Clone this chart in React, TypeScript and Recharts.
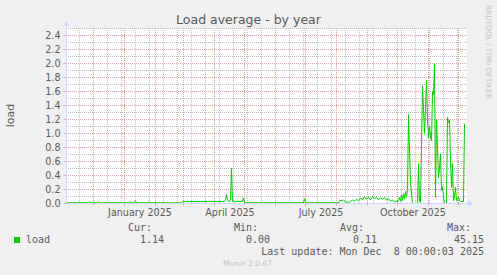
import React from "react";
import * as Recharts from "recharts";
import { LineChart, Line, XAxis, YAxis, CartesianGrid } from "recharts";

// day 0 = left edge of the plot, one sample per day (Munin "by year", 400 days)
const days = [
  0, 22, 23, 24, 31, 32, 33, 62, 63, 64, 68, 69, 70, 81, 82, 83, 92, 93, 94,
  100, 101, 102, 104, 105, 106, 115, 116, 158, 159, 160, 161, 162, 163, 164,
  165, 166, 167, 176, 177, 178, 196, 197, 198, 209, 210, 211, 237, 238, 239,
  272, 273, 276, 277, 278, 279, 283, 284, 286, 288, 290, 292, 294, 296, 298,
  300, 302, 304, 306, 308, 310, 312, 314, 316, 318, 320, 322, 324, 326, 328,
  330, 331, 333, 334, 335, 336, 337, 338, 339, 340, 341, 342, 343, 344, 345,
  346, 351, 352, 353, 354, 355, 356, 357, 358, 359, 360, 361, 362, 363, 364,
  365, 366, 367, 368, 369, 370, 371, 372, 373, 374, 375, 376, 377, 378, 380,
  381, 382, 383, 384, 385, 386, 387, 388, 389, 390, 391, 392, 393, 394, 397,
  398,
];
const loads = [
  0.01, 0.01, 0.03, 0.01, 0.01, 0.03, 0.01, 0.01, 0.03, 0.01, 0.01, 0.04, 0.01,
  0.01, 0.025, 0.01, 0.01, 0.02, 0.01, 0.01, 0.02, 0.01, 0.01, 0.025, 0.01,
  0.01, 0.03, 0.03, 0.05, 0.13, 0.06, 0.03, 0.03, 0.05, 0.5, 0.03, 0.03, 0.03,
  0.08, 0.01, 0.01, 0.025, 0.01, 0.01, 0.025, 0.01, 0.01, 0.07, 0.01, 0.01,
  0.04, 0.04, 0.05, 0.04, 0.02, 0.02, 0.03, 0.05, 0.03, 0.06, 0.04, 0.08, 0.05,
  0.1, 0.06, 0.09, 0.05, 0.1, 0.07, 0.09, 0.05, 0.08, 0.06, 0.09, 0.05, 0.07,
  0.03, 0.05, 0.02, 0.04, 0.02, 0.09, 0.03, 0.12, 0.04, 0.14, 0.06, 0.17, 0.09,
  0.2, 1.27, 0.75, 0.3, 0.14, 0.0, 0.0, 0.57, 0.03, 0.02, 0.8, 1.68, 1.35, 1.0,
  1.35, 1.76, 1.2, 0.94, 1.1, 0.95, 0.9, 1.6, 1.55, 2.0, 0.09, 1.2, 0.8, 0.37,
  0.5, 0.71, 0.19, 0.24, 0.1, 0.0, 0.0, 1.23, 1.15, 1.19, 0.6, 0.23, 0.57, 0.04,
  0.1, 0.23, 0.04, 0.06, 0.1, 0.04, 0.03, 0.03, 1.14,
];

const yTicks = [0, 0.2, 0.4, 0.6, 0.8, 1.0, 1.2, 1.4, 1.6, 1.8, 2.0, 2.2, 2.4];
const yMinor = [0.1, 0.3, 0.5, 0.7, 0.9, 1.1, 1.3, 1.5, 1.7, 1.9, 2.1, 2.3, 2.5];
// first of each month (Dec 2024 .. Dec 2025)
const monthStarts = [27, 58, 89, 117, 148, 178, 209, 239, 270, 301, 331, 362, 392];
// fortnightly minor grid
const minorX = [
  13, 27, 41, 55, 69, 83, 97, 111, 125, 139, 153, 167, 181, 195,
  209, 223, 237, 251, 265, 279, 293, 307, 321, 335, 349, 363, 377, 391,
];
const xLabelDays = [73.5, 163.5, 254.5, 346.5];
const xLabelTexts = ["January 2025", "April 2025", "July 2025", "October 2025"];

const legendHeads = ["Cur:", "Min:", "Avg:", "Max:"];
const legendValues = ["1.14", "0.00", "0.11", "45.15"];

const data = days.map((d, i) => ({ day: d, load: loads[i] }));

const AXIS = "#CFD6F8";
const FONT = "#5a5a5a";

function AxisArrows() {
  const usePA = (Recharts as any).usePlotArea;
  const area = usePA ? usePA() : null;
  if (!area) return null;
  const { x, y, width, height } = area;
  const right = x + width;
  const bottom = y + height;
  return (
    <g>
      <line x1={right} y1={bottom} x2={right + 4} y2={bottom} stroke={AXIS} />
      <polygon points={`${right + 1},${bottom - 3} ${right + 7},${bottom} ${right + 1},${bottom + 3}`} fill={AXIS} />
      <line x1={x} y1={y} x2={x} y2={y - 4} stroke={AXIS} />
      <polygon points={`${x - 3},${y - 3} ${x},${y - 7} ${x + 3},${y - 3}`} fill={AXIS} />
    </g>
  );
}

const renderXTick = (props: any) => {
  const { x, y, payload } = props;
  const i = xLabelDays.indexOf(payload.value);
  if (i >= 0) {
    return (
      <text x={x} y={y + 12.5} textAnchor="middle" fill={FONT} fontSize={9.6} fontFamily="DejaVu Sans">
        {xLabelTexts[i]}
      </text>
    );
  }
  return <line x1={x} y1={y} x2={x} y2={y + 2} stroke="#c8a8a8" />;
};

export default function App() {
  const colX = [152, 258, 364, 471];
  const valX = [164, 270, 377, 484];
  return (
    <div style={{ position: "absolute", left: 0, top: 0, width: 497, height: 275, background: "#f0f0f0" }}>
      <LineChart width={497} height={275} data={data} margin={{ top: 28.5, right: 30.5, bottom: 41.5, left: 6.5 }}>
        <CartesianGrid
          horizontalValues={yMinor}
          verticalValues={minorX}
          stroke="#bdbdbd"
          strokeDasharray="1 1"
          strokeDashoffset={0.5}
          fill="#ffffff"
        />
        <CartesianGrid
          horizontalValues={yTicks}
          verticalValues={monthStarts}
          stroke="#e29a9a"
          strokeDasharray="1 1"
          strokeDashoffset={0.5}
        />
        <XAxis
          type="number"
          dataKey="day"
          domain={[0, 400]}
          ticks={[...monthStarts, ...xLabelDays].sort((a, b) => a - b)}
          tick={renderXTick}
          tickLine={false}
          tickSize={0}
          tickMargin={0}
          interval={0}
          height={30}
          axisLine={{ stroke: AXIS }}
          allowDataOverflow
        />
        <YAxis
          type="number"
          domain={[0, 2.5]}
          ticks={yTicks}
          tickFormatter={(v: number) => v.toFixed(1)}
          interval={0}
          width={60}
          tickSize={3}
          tickMargin={3}
          axisLine={{ stroke: AXIS }}
          tickLine={{ stroke: "#b8b8c8" }}
          tick={{ fill: FONT, fontSize: 9.6, fontFamily: "DejaVu Sans" }}
          allowDataOverflow
        />
        <Line
          type="linear"
          dataKey="load"
          stroke="#00cc00"
          strokeWidth={1}
          dot={false}
          isAnimationActive={false}
        />
        <AxisArrows />
      </LineChart>
      <svg width={497} height={275} style={{ position: "absolute", left: 0, top: 0, pointerEvents: "none" }}>
        <text x={248.5} y={24} textAnchor="middle" fill={FONT} fontSize={12.5} fontFamily="DejaVu Sans">
          Load average - by year
        </text>
        <text
          x={10}
          y={115.5}
          transform="rotate(-90 10 115.5)"
          textAnchor="middle"
          dominantBaseline="central"
          fill={FONT}
          fontSize={11}
          fontFamily="DejaVu Sans"
        >
          load
        </text>
        <text
          x={488}
          y={5}
          transform="rotate(90 488 5)"
          textAnchor="start"
          dominantBaseline="central"
          fill="#c4c4c4"
          fontSize={7.3}
          fontFamily="DejaVu Sans"
        >
          RRDTOOL / TOBI OETIKER
        </text>
        <g fontFamily="DejaVu Sans Mono" fontSize={10} fill={FONT}>
          {legendHeads.map((h, i) => (
            <text key={h} x={colX[i]} y={231} textAnchor="end">
              {h}
            </text>
          ))}
          <rect x={14} y={237} width={6} height={6} fill="#00cc00" />
          <text x={26} y={243}>load</text>
          {legendValues.map((v, i) => (
            <text key={i} x={valX[i]} y={243} textAnchor="end">
              {v}
            </text>
          ))}
          <text x={484} y={255} textAnchor="end" style={{ whiteSpace: "pre" }} xmlSpace="preserve">
            Last update: Mon Dec  8 00:00:03 2025
          </text>
        </g>
        <text x={247.5} y={266} textAnchor="middle" fill="#c0c0c0" fontSize={7.5} fontFamily="DejaVu Sans">
          Munin 2.0.67
        </text>
      </svg>
    </div>
  );
}
